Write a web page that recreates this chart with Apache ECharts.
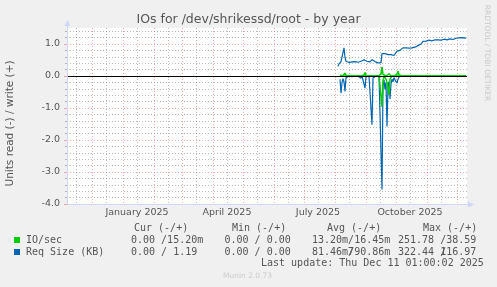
<!DOCTYPE html>
<html><head><meta charset="utf-8">
<script src="https://cdn.jsdelivr.net/npm/echarts@6/dist/echarts.min.js"></script>
<style>html,body{margin:0;padding:0;background:#f0f0f0}#c{width:497px;height:287px}</style>
</head><body><div id="c"></div>
<script>
// ---- data ----
const chartTitle = 'IOs for /dev/shrikessd/root - by year';
const yAxisTitle = 'Units read (-) / write (+)';
const yTicks = [-4, -3, -2, -1, 0, 1];
const xLabels = ['January 2025', 'April 2025', 'July 2025', 'October 2025'];
const xLabelDates = ['2025-01-15T01:00:00Z', '2025-04-15T01:00:00Z', '2025-07-15T01:00:00Z', '2025-10-15T01:00:00Z'];
const rangeStart = '2024-11-06T01:00:00Z';
const rangeEnd = '2025-12-11T01:00:00Z';
const dataStart = '2025-08-04T01:00:00Z'; // first daily sample, one value per day

// Req Size (KB) write (+)
const reqWrite = [
 0.30,0.38,0.33,0.45,0.42,0.50,0.88,0.58,0.46,0.42,
 0.40,0.42,0.38,0.41,0.44,0.41,0.43,0.45,0.42,0.46,
 0.43,0.47,0.44,0.46,0.49,0.46,0.51,0.54,0.48,0.46,
 0.49,0.45,0.44,0.48,0.51,0.48,0.46,0.45,0.43,0.42,
 0.41,0.44,0.40,0.42,0.70,0.72,0.68,0.70,0.74,0.69,
 0.67,0.68,0.66,0.67,0.65,0.66,0.64,0.65,0.63,0.78,
 0.74,0.84,0.80,0.86,0.84,0.88,0.85,0.90,0.88,0.86,
 0.90,0.87,0.89,0.86,0.88,0.85,0.87,0.90,0.88,0.92,
 0.95,0.97,0.98,1.00,1.05,1.08,1.06,1.10,1.09,1.11,
 1.10,1.12,1.11,1.13,1.10,1.12,1.11,1.13,1.12,1.10,
 1.13,1.12,1.14,1.12,1.11,1.13,1.15,1.12,1.14,1.13,
 1.15,1.14,1.16,1.13,1.15,1.14,1.17,1.16,1.18,1.20,
 1.17,1.19,1.21,1.22,1.20,1.24,1.23,1.19,1.17
];
// Req Size (KB) read (-)
const reqRead = [
 null,null,-0.10,-0.54,-0.20,-0.08,-0.18,-0.48,-0.05,0,
 0,0,0,0,-0.02,0,0,0,0,0,
 0,0,-0.02,-0.07,0,0,-0.05,-0.38,-0.03,0,
 0,0,0,-0.05,-1.52,-0.06,0,0,0,0,
 0,0,0,-0.05,-3.55,-0.30,-0.12,-0.42,-0.20,-1.58,
 -0.30,-0.18,-0.72,-0.25,-0.10,-0.18,-0.05,-0.12,-0.06,-0.22,
 -0.10,-0.03,0,0,0,0,0,0,0,0,
 0,0,0,0,0,0,0,0,0,0,
 0,0,0,0,0,0,0,0,0,0,
 0,0,0,0,0,0,0,0,0,0,
 0,0,0,0,0,0,0,0,0,0,
 0,0,0,0,0,0,0,0,0,0,
 0,0,0,0,0,0,0,0,0
];
// IO/sec write (+)
const ioWrite = [
 null,null,0.02,0,0,0.01,0.05,0.09,0.02,0,
 0,0,0,0,0,0,0,0,0,0,
 0,0,0,0,0,0,0.03,0.11,0.02,0,
 0,0,0,0,0,0,0,0,0,0,
 0,0,0,0.05,0.28,0.05,0,0.02,0,0.01,
 0.02,0.07,0.03,0,0,0.01,0,0.02,0.01,0.05,
 0.15,0.04,0,0,0,0,0,0,0,0,
 0,0,0,0,0,0,0,0,0,0,
 0,0,0,0,0,0,0,0,0,0,
 0,0,0,0,0,0,0,0,0,0,
 0,0,0,0,0,0,0,0,0,0,
 0,0,0,0,0,0,0,0,0,0,
 0,0,0,0,0,0,0,0,0
];
// IO/sec read (-)
const ioRead = [
 null,null,0,-0.02,0,0,0,0,0,0,
 0,0,0,0,0,0,0,0,0,0,
 0,0,0,0,0,0,0,0,0,0,
 0,0,0,0,0,0,0,0,0,0,
 0,0,0,0,-0.96,-0.15,0,-0.05,-0.10,-0.20,
 -0.15,-0.58,-0.10,-0.05,0,0,0,0,0,0,
 0,0,0,0,0,0,0,0,0,0,
 0,0,0,0,0,0,0,0,0,0,
 0,0,0,0,0,0,0,0,0,0,
 0,0,0,0,0,0,0,0,0,0,
 0,0,0,0,0,0,0,0,0,0,
 0,0,0,0,0,0,0,0,0,0,
 0,0,0,0,0,0,0,0,0
];
// legend table
const legendHeader = ['Cur (-/+)', 'Min (-/+)', 'Avg (-/+)', 'Max (-/+)'];
const legendRows = [
  {name: 'IO/sec', color: '#00CC00', cells: ['0.00 /15.20m', '0.00 / 0.00', ['13.20m/', '16.45m'], ['251.78 /', '38.59']]},
  {name: 'Req Size (KB)', color: '#0066B3', cells: ['0.00 / 1.19', '0.00 / 0.00', ['81.46m/', '790.86m'], ['322.44 /', '116.97']]}
];
const lastUpdate = 'Last update: Thu Dec 11 01:00:02 2025';
const credit = 'RRDTOOL / TOBI OETIKER';
const version = 'Munin 2.0.73';

// ---- build ----
const DAY = 86400000;
const T0 = Date.parse(rangeStart), T1 = Date.parse(rangeEnd);
const D0 = Date.parse(dataStart);
const dates = reqWrite.map((_, i) => D0 + i * DAY);
const pairs = arr => arr.map((v, i) => [dates[i], v]);

const monthStarts = [], midMonths = [];
for (let y = 2024; y <= 2025; y++) for (let m = 0; m < 12; m++) {
  const a = Date.UTC(y, m, 1, 1), b = Date.UTC(y, m, 15, 1);
  if (a > T0 && a < T1) monthStarts.push(a);
  if (b > T0 && b < T1) midMonths.push(b);
}
const labelVals = xLabelDates.map(d => Date.parse(d));
const labelMap = {}; labelVals.forEach((v, i) => labelMap[v] = xLabels[i]);
const minorY = [];
for (let k = -20; k <= 7; k++) { if (k % 5 !== 0) minorY.push(k / 5); }

const MAJ = 'rgba(230,100,100,0.55)';
const MIN = 'rgba(120,120,120,0.5)';
const AXIS = '#CFD6F8';
const FONT = '#555';
const mono = "10px 'DejaVu Sans Mono'";

const chart = echarts.init(document.getElementById('c'), null, {renderer: 'canvas'});

const graphics = [
  {type: 'text', x: 248.5, y: 19.5, style: {text: chartTitle, font: "12.5px 'DejaVu Sans'", fill: FONT, textAlign: 'center', textVerticalAlign: 'middle'}},
  {type: 'text', x: 10.5, y: 123.5, rotation: Math.PI / 2, style: {text: yAxisTitle, font: "10.5px 'DejaVu Sans'", fill: FONT, textAlign: 'center', textVerticalAlign: 'middle'}},
  {type: 'text', x: 487, y: 53, rotation: -Math.PI / 2, style: {text: credit, font: "7.5px 'DejaVu Sans'", fill: '#c8c8c8', textAlign: 'center', textVerticalAlign: 'middle'}},
  {type: 'line', z: 20, shape: {x1: 67.5, y1: 204.5, x2: 67.5, y2: 24}, style: {stroke: AXIS, lineWidth: 1}},
  {type: 'polygon', z: 20, shape: {points: [[64.5, 26], [70.5, 26], [67.5, 20]]}, style: {fill: AXIS}},
  {type: 'line', z: 20, shape: {x1: 67, y1: 204.5, x2: 470, y2: 204.5}, style: {stroke: AXIS, lineWidth: 1}},
  {type: 'polygon', z: 20, shape: {points: [[468, 201.5], [468, 207.5], [474, 204.5]]}, style: {fill: AXIS}},
  {type: 'text', x: 247.5, y: 276.5, style: {text: version, font: "7.5px 'DejaVu Sans'", fill: '#cccccc', textAlign: 'center', textVerticalAlign: 'middle'}},
  {type: 'text', x: 261, y: 263.5, style: {text: lastUpdate, font: mono, fill: FONT, textVerticalAlign: 'middle'}}
];
const headX = [134, 232, 327, 423];
legendHeader.forEach((t, i) => graphics.push({type: 'text', x: headX[i], y: 228, style: {text: t, font: mono, fill: FONT, textVerticalAlign: 'middle'}}));
const cellX = [131, 224.5, 312, 398];
legendRows.forEach((r, j) => {
  const yy = 240 + j * 12;
  graphics.push({type: 'rect', shape: {x: 14, y: yy - 3, width: 6, height: 6}, style: {fill: r.color}});
  graphics.push({type: 'text', x: 26, y: yy, style: {text: r.name, font: mono, fill: FONT, textVerticalAlign: 'middle'}});
  r.cells.forEach((c, i) => {
    if (Array.isArray(c)) {
      graphics.push({type: 'text', x: cellX[i], y: yy, style: {text: c[0], font: mono, fill: FONT, textVerticalAlign: 'middle'}});
      graphics.push({type: 'text', x: cellX[i] + 13 * 6.02, y: yy, style: {text: c[1], font: mono, fill: FONT, textAlign: 'right', textVerticalAlign: 'middle'}});
    } else {
      graphics.push({type: 'text', x: cellX[i], y: yy, style: {text: c, font: mono, fill: FONT, textVerticalAlign: 'middle'}});
    }
  });
});

const lineSeries = (name, arr, color, z, w) => ({
  name, type: 'line', data: pairs(arr), xAxisIndex: 0, yAxisIndex: 0,
  symbol: 'none', z, silent: true, connectNulls: false,
  lineStyle: {color, width: w}, itemStyle: {color}
});

chart.setOption({
  animation: false,
  backgroundColor: '#f0f0f0',
  grid: {left: 67, right: 30, top: 28, bottom: 83, show: true, backgroundColor: '#ffffff', borderWidth: 0},
  xAxis: [
    {type: 'value', min: T0, max: T1, position: 'bottom', scale: true,
     axisLine: {show: false},
     axisTick: {show: true, customValues: monthStarts, length: 2, lineStyle: {color: MAJ}},
     axisLabel: {show: true, customValues: labelVals, formatter: v => labelMap[v] || '', color: FONT, fontSize: 9.5, fontFamily: 'DejaVu Sans', margin: 4, hideOverlap: false},
     splitLine: {show: true, lineStyle: {color: MAJ, type: [1, 2], width: 1}}},
    {type: 'value', min: T0, max: T1, position: 'bottom', scale: true,
     axisLine: {show: false},
     axisTick: {show: true, customValues: midMonths, length: 2, lineStyle: {color: MIN}},
     axisLabel: {show: false},
     splitLine: {show: true, lineStyle: {color: MIN, type: [1, 2], width: 1}}}
  ],
  yAxis: [
    {type: 'value', min: -4, max: 1.5, position: 'left',
     axisLine: {show: false},
     axisTick: {show: true, customValues: yTicks, length: 3, lineStyle: {color: MAJ}},
     axisLabel: {customValues: yTicks, formatter: v => v.toFixed(1), color: FONT, fontSize: 9.5, fontFamily: 'DejaVu Sans', margin: 7},
     splitLine: {show: true, lineStyle: {color: MAJ, type: [1, 2], width: 1}}},
    {type: 'value', min: -4, max: 1.5, position: 'left',
     axisLine: {show: false},
     axisTick: {show: true, customValues: minorY, length: 2, lineStyle: {color: MIN}},
     axisLabel: {show: false},
     splitLine: {show: true, lineStyle: {color: MIN, type: [1, 2], width: 1}}}
  ],
  series: [
    lineSeries('Req Size (KB) read', reqRead, '#0066B3', 2, 1.2),
    lineSeries('Req Size (KB) write', reqWrite, '#0066B3', 2, 1.2),
    lineSeries('IO/sec read', ioRead, '#00CC00', 3, 1.5),
    lineSeries('IO/sec write', ioWrite, '#00CC00', 3, 1.5),
    {type: 'line', data: [], z: 6, silent: true, xAxisIndex: 0, yAxisIndex: 0,
     markLine: {silent: true, symbol: 'none', label: {show: false}, lineStyle: {color: '#000', width: 1, type: 'solid'}, data: [{yAxis: 0}]}}
  ],
  graphic: graphics
});
</script></body></html>
